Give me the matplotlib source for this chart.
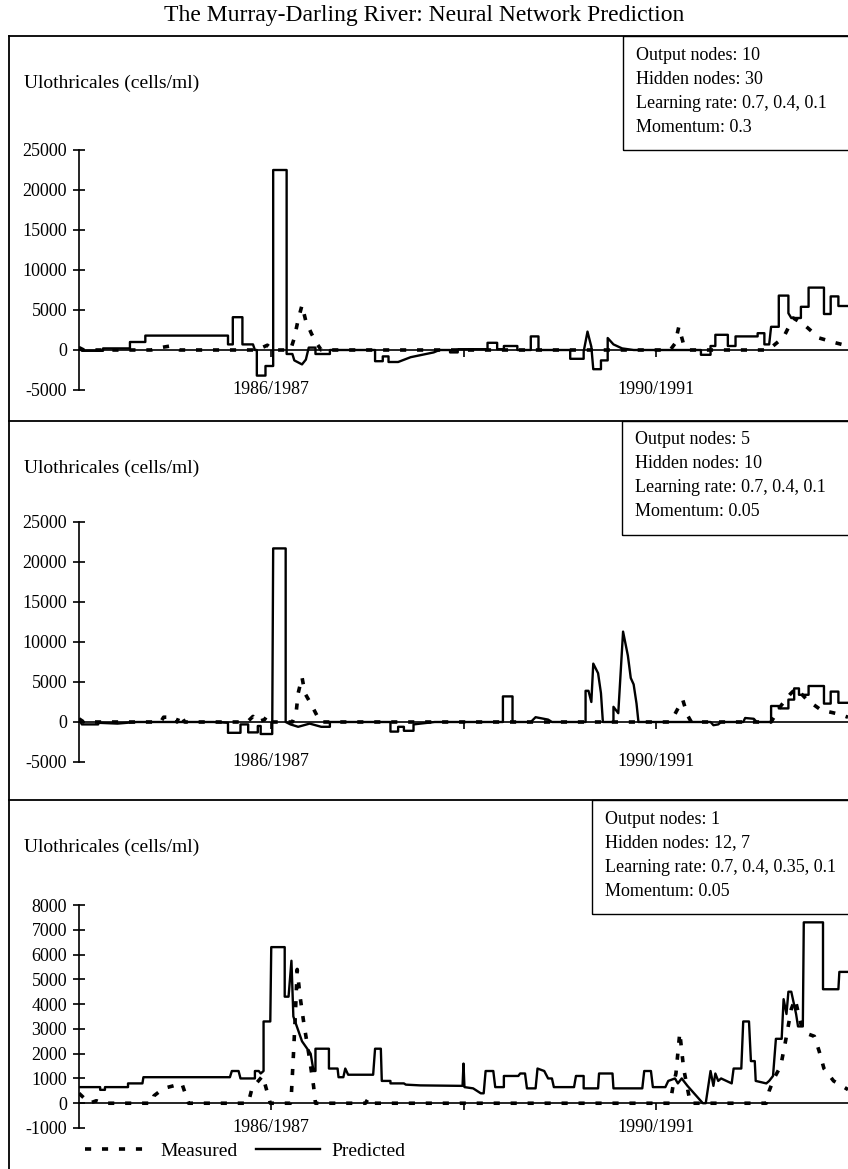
import matplotlib
matplotlib.use("Agg")
import matplotlib.pyplot as plt
from matplotlib.lines import Line2D
from matplotlib.patches import Rectangle

plt.rcParams['font.family'] = ['Liberation Serif', 'DejaVu Serif']

# Ulothricales counts (cells/ml); time in years, 1985.0 = start of 1984/1985
pred1 = [(1985.00, 300), (1985.03, -100), (1985.25, -100), (1985.25, 200), (1985.53, 200),
         (1985.53, 1000), (1985.69, 1000), (1985.69, 1800), (1986.55, 1800), (1986.55, 700),
         (1986.60, 700), (1986.60, 4100), (1986.70, 4100), (1986.70, 700), (1986.81, 700),
         (1986.83, 0), (1986.85, 0), (1986.85, -3200), (1986.94, -3200), (1986.94, -2000),
         (1987.02, -2000), (1987.02, 22500), (1987.16, 22500), (1987.16, -500), (1987.22, -500),
         (1987.24, -1300), (1987.32, -1800), (1987.36, -1200), (1987.39, 300), (1987.46, 300),
         (1987.46, -500), (1987.61, -500), (1987.61, 0), (1988.08, 0), (1988.08, -1400),
         (1988.16, -1400), (1988.16, -800), (1988.22, -800), (1988.22, -1500), (1988.32, -1500),
         (1988.45, -900), (1988.69, -300), (1988.75, 0), (1988.86, 0), (1988.86, -300),
         (1988.94, -300), (1988.94, 100), (1989.25, 100), (1989.25, 900), (1989.35, 900),
         (1989.35, 100), (1989.42, 100), (1989.42, 500), (1989.56, 500), (1989.56, 0),
         (1989.70, 0), (1989.70, 1700), (1989.78, 1700), (1989.78, 0), (1990.11, 0),
         (1990.11, -1100), (1990.25, -1100), (1990.25, -200), (1990.29, 2300), (1990.33, 400),
         (1990.35, -2400), (1990.43, -2400), (1990.43, -1300), (1990.50, -1300), (1990.50, 1500),
         (1990.56, 700), (1990.65, 200), (1990.77, 0), (1991.47, 0), (1991.47, -600),
         (1991.57, -600), (1991.57, 500), (1991.62, 500), (1991.62, 1900), (1991.75, 1900),
         (1991.75, 500), (1991.83, 500), (1991.83, 1700), (1992.06, 1700), (1992.06, 2100),
         (1992.13, 2100), (1992.13, 700), (1992.18, 700), (1992.20, 2900), (1992.28, 2900),
         (1992.28, 6800), (1992.38, 6800), (1992.38, 4600), (1992.41, 4000), (1992.51, 4000),
         (1992.51, 5400), (1992.59, 5400), (1992.59, 7800), (1992.75, 7800), (1992.75, 4500),
         (1992.82, 4500), (1992.82, 6700), (1992.90, 6700), (1992.90, 5500), (1993.00, 5500)]

meas1 = [(1985.00, 300), (1985.05, 0), (1985.75, 0), (1985.85, 300), (1985.95, 500),
         (1986.05, 0), (1986.85, 0), (1986.96, 600), (1987.02, 0), (1987.20, 0),
         (1987.24, 1500), (1987.28, 3800), (1987.32, 5600), (1987.36, 3600), (1987.42, 2000),
         (1987.48, 700), (1987.52, 0), (1991.15, 0), (1991.20, 800), (1991.24, 2900),
         (1991.29, 700), (1991.34, 0), (1992.17, 0), (1992.33, 1600), (1992.43, 4000),
         (1992.54, 3200), (1992.70, 1500), (1992.87, 900), (1993.00, 500)]

pred2 = [(1985.00, 300), (1985.03, -300), (1985.20, -300), (1985.20, -100), (1985.40, -200),
         (1985.60, 0), (1986.40, 0), (1986.55, -100), (1986.55, -1350), (1986.68, -1350),
         (1986.68, -300), (1986.76, -300), (1986.76, -1300), (1986.86, -1300), (1986.86, -500),
         (1986.89, -500), (1986.89, -1500), (1987.01, -1500), (1987.02, 21700), (1987.15, 21700),
         (1987.15, 0), (1987.20, -300), (1987.28, -600), (1987.40, -200), (1987.52, -600),
         (1987.61, -600), (1987.61, 0), (1988.24, 0), (1988.24, -1200), (1988.32, -1200),
         (1988.32, -600), (1988.38, -600), (1988.38, -1100), (1988.48, -1100), (1988.48, -300),
         (1988.70, 0), (1989.41, 0), (1989.41, 3200), (1989.51, 3200), (1989.51, 0),
         (1989.70, 0), (1989.75, 600), (1989.88, 300), (1989.92, 0), (1990.27, 0),
         (1990.27, 3900), (1990.30, 3900), (1990.33, 2500), (1990.35, 7300), (1990.40, 6100),
         (1990.43, 3600), (1990.45, 0), (1990.56, 0), (1990.56, 1900), (1990.61, 1100),
         (1990.66, 11300), (1990.71, 8300), (1990.74, 5500), (1990.77, 4700), (1990.80, 2300),
         (1990.82, 0), (1991.57, 0), (1991.60, -400), (1991.65, -300), (1991.68, 0),
         (1991.91, 0), (1991.93, 500), (1992.02, 400), (1992.05, 0), (1992.20, 0),
         (1992.20, 2000), (1992.28, 2000), (1992.28, 1700), (1992.38, 1700), (1992.38, 2800),
         (1992.44, 2800), (1992.44, 4200), (1992.49, 4200), (1992.49, 3400), (1992.59, 3400),
         (1992.59, 4500), (1992.75, 4500), (1992.75, 2300), (1992.82, 2300), (1992.82, 3800),
         (1992.90, 3800), (1992.90, 2400), (1993.00, 2400)]

meas2 = [(1985.00, 400), (1985.05, 0), (1985.85, 0), (1985.88, 600), (1985.98, 600),
         (1986.02, 0), (1986.05, 1000), (1986.10, 0), (1986.75, 0), (1986.81, 700),
         (1986.85, 0), (1986.93, 300), (1986.96, 850), (1987.00, 0), (1987.22, 0),
         (1987.26, 1300), (1987.28, 3600), (1987.32, 5600), (1987.35, 3600), (1987.42, 2100),
         (1987.48, 700), (1987.51, 0), (1991.15, 0), (1991.20, 1000), (1991.28, 2800),
         (1991.33, 850), (1991.37, 0), (1992.20, 0), (1992.30, 2000), (1992.40, 3500),
         (1992.46, 4200), (1992.58, 2700), (1992.72, 1500), (1992.90, 1000), (1993.00, 600)]

pred3 = [(1985.00, 650), (1985.22, 650), (1985.22, 540), (1985.27, 540), (1985.27, 650),
         (1985.51, 650), (1985.51, 800), (1985.66, 800), (1985.67, 1050), (1986.57, 1050),
         (1986.59, 1300), (1986.66, 1300), (1986.68, 1000), (1986.83, 1000), (1986.83, 1300),
         (1986.87, 1300), (1986.89, 1200), (1986.92, 1300), (1986.92, 3300), (1986.99, 3300),
         (1987.00, 6300), (1987.14, 6300), (1987.14, 4300), (1987.18, 4300), (1987.21, 5750),
         (1987.23, 3500), (1987.32, 2500), (1987.41, 2000), (1987.44, 1300), (1987.46, 1300),
         (1987.46, 2200), (1987.60, 2200), (1987.60, 1400), (1987.69, 1400), (1987.70, 1050),
         (1987.75, 1050), (1987.77, 1400), (1987.80, 1150), (1988.06, 1150), (1988.08, 2200),
         (1988.14, 2200), (1988.15, 900), (1988.24, 900), (1988.24, 800), (1988.38, 800),
         (1988.40, 750), (1988.55, 720), (1988.99, 700), (1989.00, 1600), (1989.01, 650),
         (1989.10, 600), (1989.18, 400), (1989.21, 400), (1989.23, 1300), (1989.31, 1300),
         (1989.33, 650), (1989.42, 650), (1989.42, 1100), (1989.57, 1100), (1989.59, 1200),
         (1989.64, 1200), (1989.66, 600), (1989.75, 600), (1989.77, 1400), (1989.84, 1300),
         (1989.88, 1000), (1989.92, 1000), (1989.94, 650), (1990.15, 650), (1990.17, 1100),
         (1990.25, 1100), (1990.25, 600), (1990.40, 600), (1990.41, 1200), (1990.55, 1200),
         (1990.56, 600), (1990.86, 600), (1990.88, 1300), (1990.95, 1300), (1990.97, 650),
         (1991.10, 650), (1991.13, 900), (1991.20, 1000), (1991.23, 800), (1991.27, 1000),
         (1991.33, 700), (1991.49, 0), (1991.52, 0), (1991.57, 1300), (1991.60, 700),
         (1991.62, 1200), (1991.65, 900), (1991.68, 1000), (1991.79, 800), (1991.81, 1400),
         (1991.89, 1400), (1991.91, 3300), (1991.97, 3300), (1991.99, 1700), (1992.03, 1700),
         (1992.04, 900), (1992.15, 800), (1992.18, 900), (1992.22, 1100), (1992.25, 2600),
         (1992.31, 2600), (1992.33, 4200), (1992.36, 3600), (1992.38, 4500), (1992.41, 4500),
         (1992.46, 3600), (1992.48, 3100), (1992.53, 3100), (1992.54, 7300), (1992.74, 7300),
         (1992.74, 4600), (1992.90, 4600), (1992.91, 5300), (1993.00, 5300)]

meas3 = [(1985.00, 400), (1985.11, 0), (1985.18, 100), (1985.25, 0), (1985.76, 0),
         (1985.78, 300), (1985.88, 600), (1985.98, 700), (1986.07, 800), (1986.14, 0),
         (1986.76, 0), (1986.80, 600), (1986.91, 1100), (1986.94, 700), (1986.99, 0),
         (1987.20, 0), (1987.21, 400), (1987.23, 1900), (1987.25, 3500), (1987.27, 5400),
         (1987.30, 4300), (1987.34, 3200), (1987.39, 2000), (1987.44, 700), (1987.46, 0),
         (1987.98, 0), (1988.01, 200), (1988.05, 0), (1991.15, 0), (1991.18, 700),
         (1991.21, 1200), (1991.25, 2850), (1991.29, 1400), (1991.33, 600), (1991.36, 0),
         (1992.15, 0), (1992.18, 500), (1992.23, 1000), (1992.30, 1500), (1992.35, 2500),
         (1992.41, 3800), (1992.45, 4200), (1992.51, 3200), (1992.58, 2800), (1992.65, 2700),
         (1992.70, 2100), (1992.75, 1400), (1992.85, 900), (1993.00, 550)]

yticks_big = [-5000, 0, 5000, 10000, 15000, 20000, 25000]
yticks_small = [-1000, 0, 1000, 2000, 3000, 4000, 5000, 6000, 7000, 8000]
season_ticks = [1987, 1989, 1991]
season_labels = {1987: '1986/1987', 1991: '1990/1991'}

settings = [
    ['Output nodes: 10', 'Hidden nodes: 30', 'Learning rate: 0.7, 0.4, 0.1', 'Momentum: 0.3'],
    ['Output nodes: 5', 'Hidden nodes: 10', 'Learning rate: 0.7, 0.4, 0.1', 'Momentum: 0.05'],
    ['Output nodes: 1', 'Hidden nodes: 12, 7', 'Learning rate: 0.7, 0.4, 0.35, 0.1', 'Momentum: 0.05'],
]

W, H = 848, 1169
fig = plt.figure(figsize=(W / 100, H / 100), dpi=100)

def fx(px):
    return px / W

def fy(py):
    return 1 - py / H

fig.text(0.5, fy(15), 'The Murray-Darling River: Neural Network Prediction',
         ha='center', va='center', fontsize=17)

# panel layout in pixels: frame top, axis top, axis bottom, info box left
panels = [
    (36, 150, 390, 623, pred1, meas1, yticks_big),
    (421, 522, 762, 622, pred2, meas2, yticks_big),
    (800, 905, 1128, 592, pred3, meas3, yticks_small),
]

# outer frame
fig.add_artist(Line2D([fx(9), fx(9)], [fy(36), 0], color='black', lw=1.3))
for i, (top, ax_top, ax_bot, box_left, pred, meas, yt) in enumerate(panels):
    fig.add_artist(Line2D([fx(9), 1], [fy(top), fy(top)], color='black', lw=1.3))

    ax = fig.add_axes([fx(79), fy(ax_bot), 1 - fx(79), fy(ax_top) - fy(ax_bot)])
    ax.patch.set_alpha(0)
    mt, mv = zip(*meas)
    pt, pv = zip(*pred)
    ax.plot(mt, mv, color='black', lw=2.6, linestyle=(0, (1.7, 3.0)), label='Measured')
    ax.plot(pt, pv, color='black', lw=1.7, label='Predicted')

    ax.set_xlim(1985, 1993)
    ax.set_ylim(yt[0], yt[-1])
    ax.set_yticks(yt)
    ax.set_yticklabels([str(v) for v in yt])
    ax.spines['top'].set_visible(False)
    ax.spines['right'].set_visible(False)
    ax.spines['bottom'].set_position(('data', 0))
    ax.spines['left'].set_linewidth(1.2)
    ax.spines['bottom'].set_linewidth(1.2)
    ax.tick_params(axis='y', direction='inout', length=9, width=1.2, labelsize=13, pad=4)
    ax.set_xticks(season_ticks)
    ax.set_xticklabels([])
    ax.tick_params(axis='x', direction='out', length=5, width=1.2)

    # season labels sit level with the lowest y tick
    for t in season_ticks:
        if t in season_labels:
            ax.text(t, yt[0], season_labels[t], ha='center', va='center', fontsize=13)

    fig.text(fx(24), fy(top + 47), 'Ulothricales (cells/ml)', ha='left', va='center', fontsize=14)

    box_h = 114
    fig.add_artist(Rectangle((fx(box_left), fy(top + box_h)), 1.1 - fx(box_left), box_h / H,
                             transform=fig.transFigure, fill=False, edgecolor='black', lw=1.0))
    for k, line in enumerate(settings[i]):
        fig.text(fx(box_left + 13), fy(top + 19 + 24 * k), line,
                 ha='left', va='center', fontsize=13)

    if i == 2:
        handles, labels = ax.get_legend_handles_labels()

fig.legend(handles, labels, loc='center left', bbox_to_anchor=(fx(85), fy(1151)),
           ncol=2, frameon=False, fontsize=14, handlelength=3.3, handletextpad=0.6,
           columnspacing=0.9, borderpad=0, borderaxespad=0)

fig.savefig('out.png', dpi=100)
